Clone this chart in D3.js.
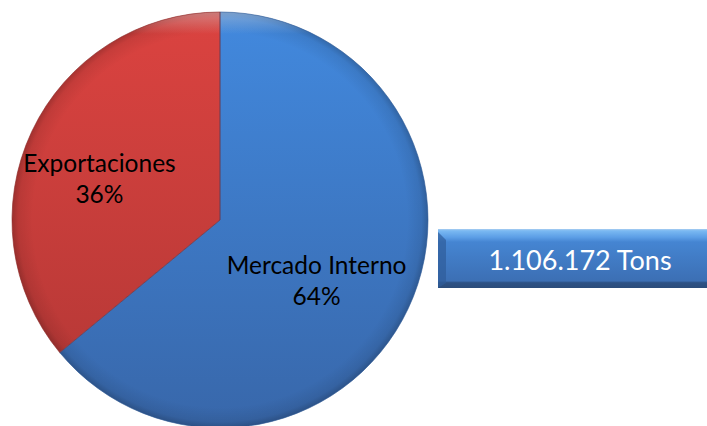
<!DOCTYPE html>
<html>
<head>
<meta charset="utf-8">
<script src="https://cdn.jsdelivr.net/npm/d3@7"></script>
<style>
  html, body { margin: 0; padding: 0; background: #ffffff; }
  svg { display: block; }
</style>
</head>
<body>
<div id="chart"></div>
<script>
// Chart data
const categories = ['Mercado Interno', 'Exportaciones'];
const values = [64, 36];
const totalLabel = '1.106.172 Tons';

const width = 707, height = 426;
const cx = 220, cy = 220, radius = 208;

const svg = d3.select('#chart').append('svg')
    .attr('width', width)
    .attr('height', height);

const defs = svg.append('defs');

// vertical gradients for each slice (group coords, centred on pie)
const sliceColors = [
    { top: '#4289de', bottom: '#3867aa', stroke: '#2f5a96' },
    { top: '#db4340', bottom: '#b23735', stroke: '#8e2a28' }
];
sliceColors.forEach((c, i) => {
    const lg = defs.append('linearGradient')
        .attr('id', 'slice' + i)
        .attr('gradientUnits', 'userSpaceOnUse')
        .attr('x1', 0).attr('y1', -radius)
        .attr('x2', 0).attr('y2', radius);
    lg.append('stop').attr('offset', '0%').attr('stop-color', c.top);
    lg.append('stop').attr('offset', '100%').attr('stop-color', c.bottom);
});

// rim shading
const rim = defs.append('radialGradient')
    .attr('id', 'rim')
    .attr('gradientUnits', 'userSpaceOnUse')
    .attr('cx', 0).attr('cy', 0).attr('r', radius);
rim.append('stop').attr('offset', '90%').attr('stop-color', '#000').attr('stop-opacity', 0);
rim.append('stop').attr('offset', '97%').attr('stop-color', '#000').attr('stop-opacity', 0.08);
rim.append('stop').attr('offset', '100%').attr('stop-color', '#000').attr('stop-opacity', 0.22);

// top highlight
const hl = defs.append('linearGradient')
    .attr('id', 'hl')
    .attr('gradientUnits', 'userSpaceOnUse')
    .attr('x1', 0).attr('y1', -radius)
    .attr('x2', 0).attr('y2', -radius + 22);
hl.append('stop').attr('offset', '0%').attr('stop-color', '#fff').attr('stop-opacity', 0.35);
hl.append('stop').attr('offset', '100%').attr('stop-color', '#fff').attr('stop-opacity', 0);

const pie = d3.pie().sort(null).value(d => d.value);
const arcs = pie(categories.map((name, i) => ({ name: name, value: values[i] })));

const arc = d3.arc().innerRadius(0).outerRadius(radius);
const labelArc = d3.arc().innerRadius(120).outerRadius(120);

const g = svg.append('g').attr('transform', `translate(${cx},${cy})`);

g.selectAll('path.slice')
    .data(arcs)
    .enter().append('path')
    .attr('class', 'slice')
    .attr('d', arc)
    .attr('fill', (d, i) => `url(#slice${i})`);

g.append('circle').attr('r', radius).attr('fill', 'url(#rim)');
g.append('circle').attr('r', radius).attr('fill', 'url(#hl)');

// slice edges
g.selectAll('path.edge')
    .data(arcs)
    .enter().append('path')
    .attr('class', 'edge')
    .attr('d', arc)
    .attr('fill', 'none')
    .attr('stroke', (d, i) => sliceColors[i].stroke)
    .attr('stroke-width', 1)
    .attr('stroke-opacity', 0.6);

// labels
const labels = g.selectAll('text.label')
    .data(arcs)
    .enter().append('text')
    .attr('class', 'label')
    .attr('text-anchor', 'middle')
    .attr('font-family', 'Lato, "Liberation Sans", sans-serif')
    .attr('font-size', '24.5px')
    .attr('fill', '#000')
    .attr('transform', d => {
        const c = labelArc.centroid(d);
        return `translate(${c[0] - 12},${c[1] + 13})`;
    });
labels.append('tspan').attr('x', 0).attr('y', -10).text(d => d.data.name);
labels.append('tspan').attr('x', 0).attr('y', 21).text(d => d.data.value + '%');

// total box
const boxX = 438, boxY = 229, boxW = 290, boxH = 59;
const boxGrad = defs.append('linearGradient')
    .attr('id', 'box')
    .attr('x1', 0).attr('y1', 0).attr('x2', 0).attr('y2', 1);
[
    ['0%', '#a9cdf0'], ['3%', '#7ab9f2'], ['14%', '#5c9ee6'], ['22%', '#4585d2'],
    ['88%', '#3c6fb4'], ['91%', '#2d5285'], ['100%', '#2b4c7a']
].forEach(s => boxGrad.append('stop').attr('offset', s[0]).attr('stop-color', s[1]));

const box = svg.append('g');
box.append('rect')
    .attr('x', boxX).attr('y', boxY)
    .attr('width', boxW).attr('height', boxH)
    .attr('fill', 'url(#box)');
box.append('path')
    .attr('d', `M${boxX},${boxY + 3}L${boxX + 8},${boxY + 11}L${boxX + 8},${boxY + boxH - 5}L${boxX},${boxY + boxH}Z`)
    .attr('fill', '#2f5c9a')
    .attr('opacity', 0.7);
box.append('text')
    .attr('x', 580).attr('y', boxY + 41)
    .attr('text-anchor', 'middle')
    .attr('font-family', 'Lato, "Liberation Sans", sans-serif')
    .attr('font-size', '27px')
    .attr('fill', '#ffffff')
    .text(totalLabel);
</script>
</body>
</html>
